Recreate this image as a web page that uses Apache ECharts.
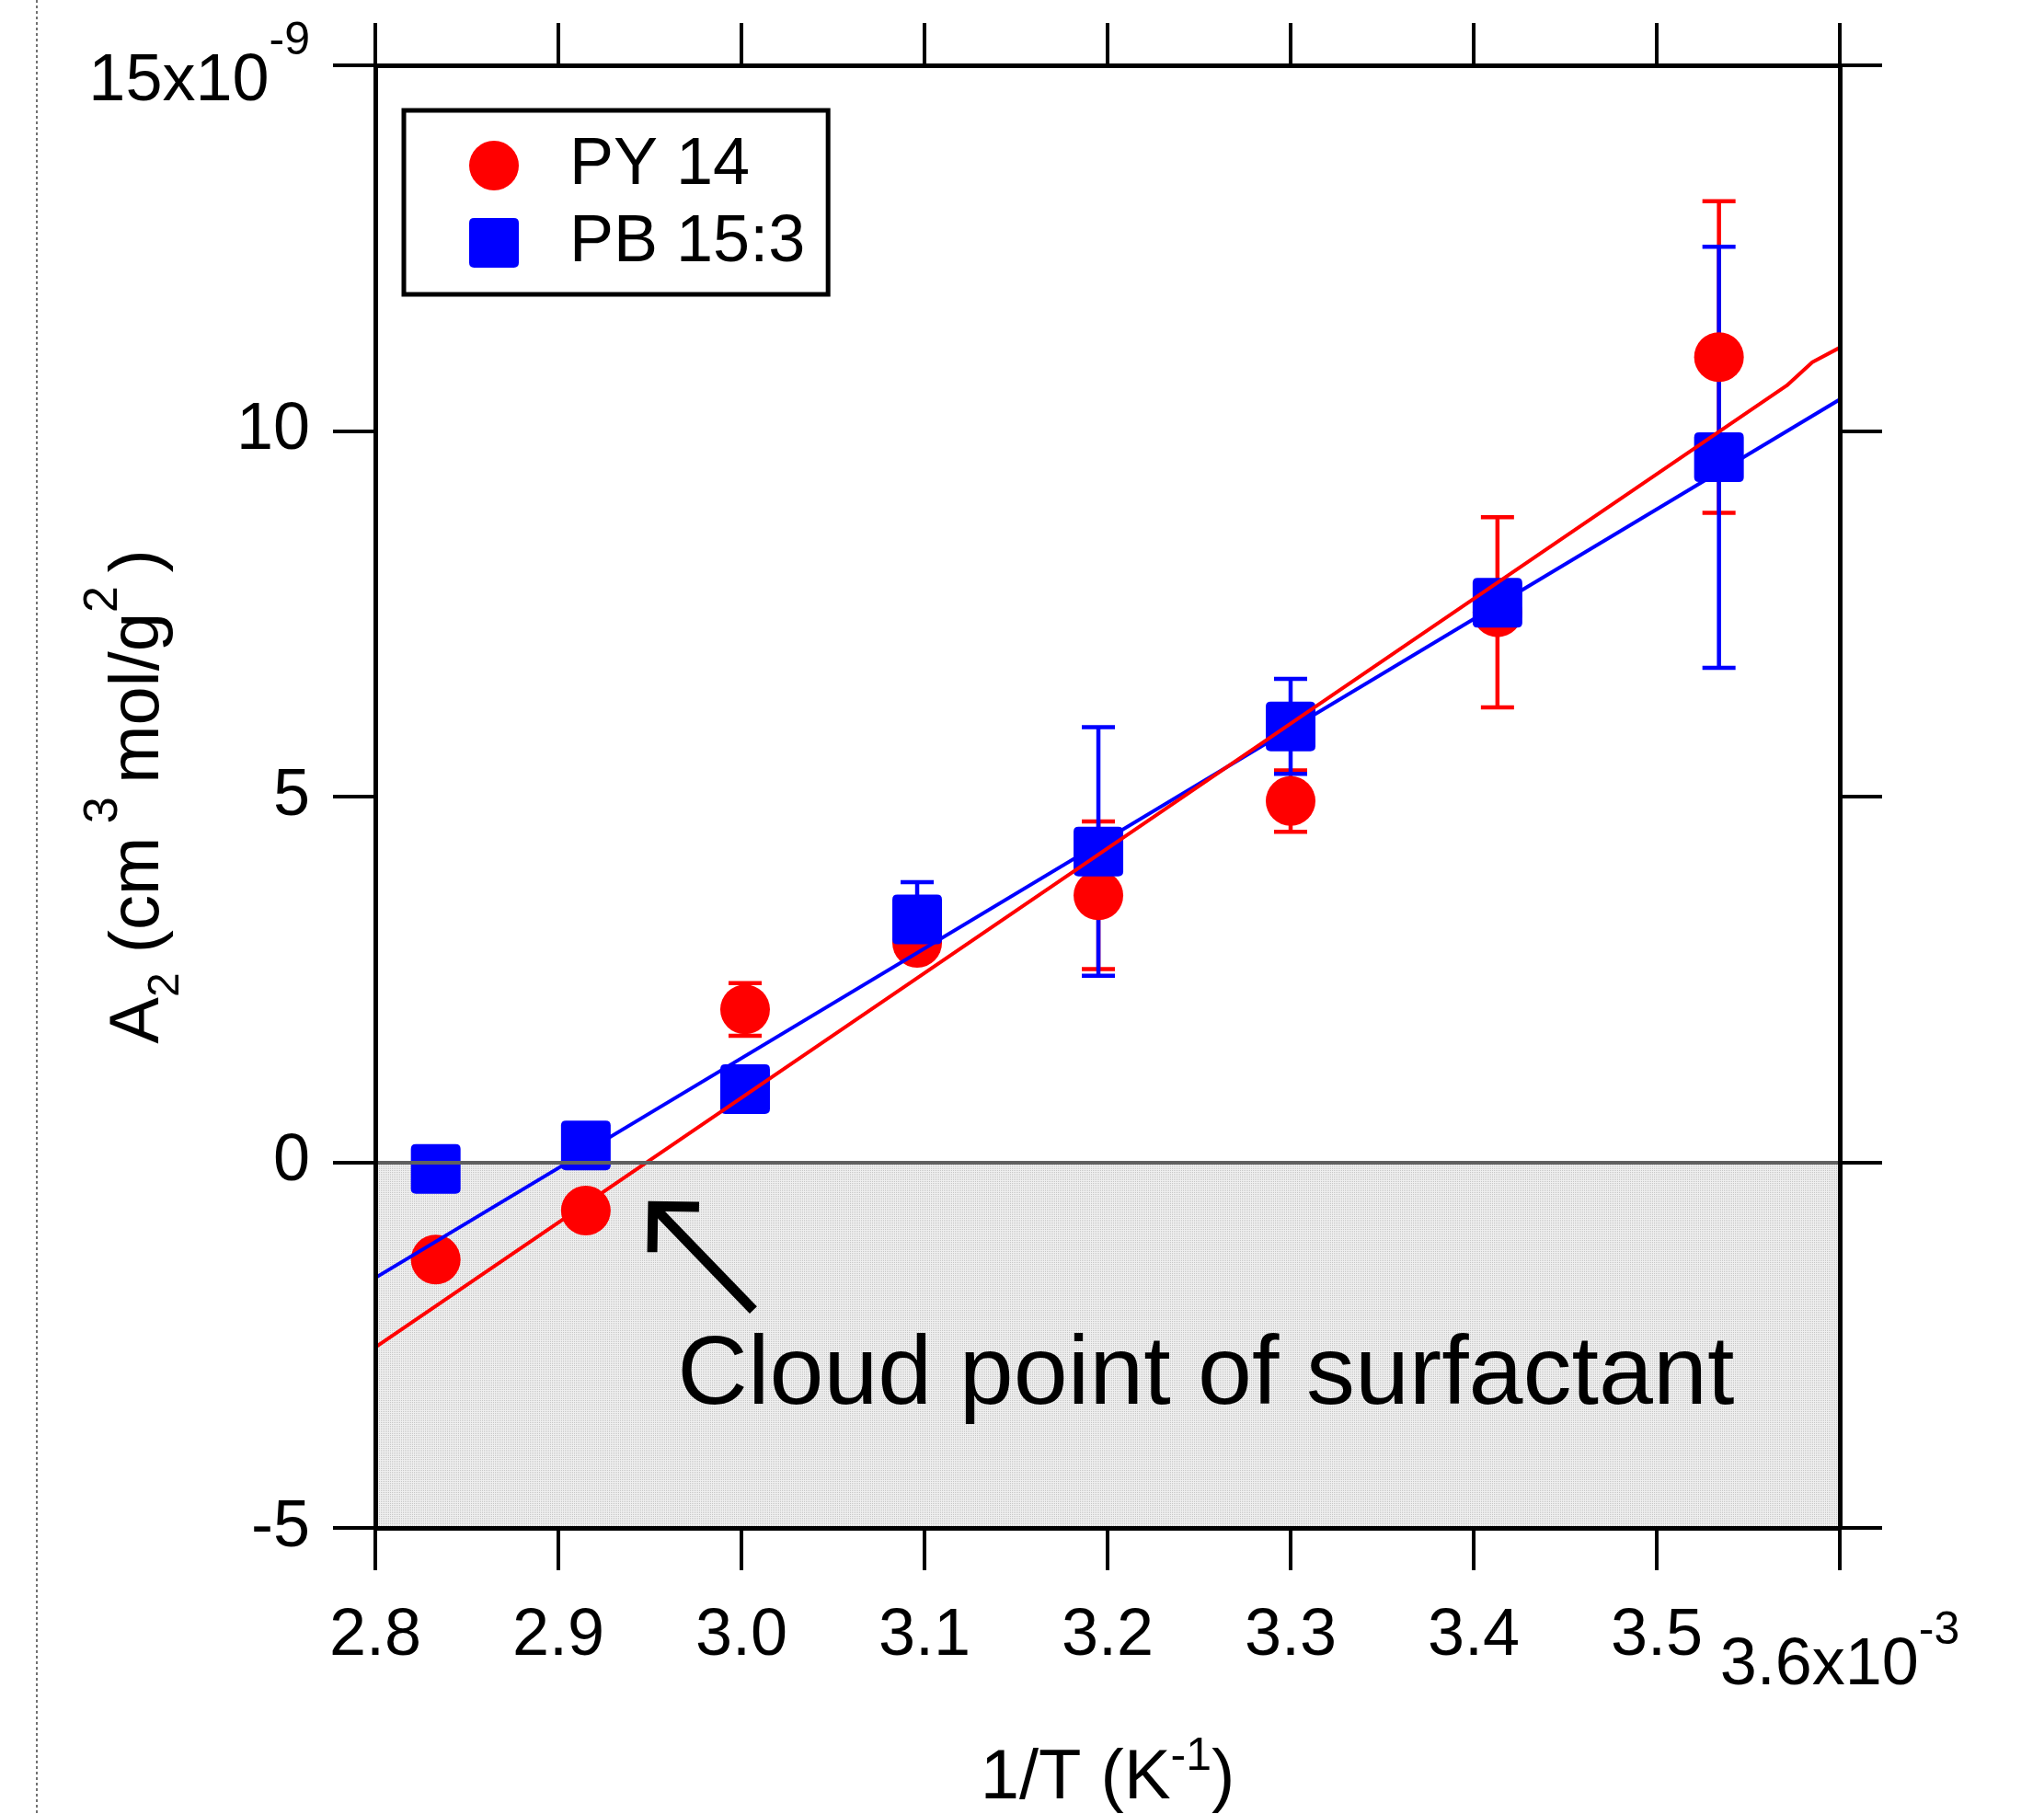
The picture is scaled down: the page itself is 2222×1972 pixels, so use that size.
<!DOCTYPE html>
<html>
<head>
<meta charset="utf-8">
<script src="https://cdn.jsdelivr.net/npm/echarts@6/dist/echarts.min.js"></script>
<style>
  html, body { margin: 0; padding: 0; background: #fff; }
  #chart { width: 2222px; height: 1972px; }
</style>
</head>
<body>
<div id="chart"></div>
<script>
// 1/T values (x10^-3 K^-1) and A2 values (x10^-9)
const invT = [2.833, 2.915, 3.002, 3.096, 3.195, 3.300, 3.413, 3.534];
const py14 = [-1.33, -0.66, 2.09, 3.00, 3.65, 4.94, 7.52, 11.01];
const py14Err = [null, null, 0.36, null, 1.01, 0.42, 1.30, 2.13];
const pb153 = [-0.09, 0.23, 1.00, 3.32, 4.25, 5.96, 7.65, 9.64];
const pb153Err = [null, null, null, 0.51, 1.70, 0.65, null, 2.88];

// fit lines
const py14FitX = [2.8, 3.571, 3.585, 3.6];
const py14FitY = [-2.53, 10.62, 10.94, 11.14];
const pb153FitX = [2.8, 3.6];
const pb153FitY = [-1.58, 10.43];

const xMin = 2.8, xMax = 3.6, xStep = 0.1;
const yMin = -5, yMax = 15, yStep = 5;

const cloudLabel = 'Cloud point of surfactant';
const cloudTextAt = [2.965, -2.94];
const arrowTip = [2.949, -0.53];
const arrowTail = [3.0065, -2.02];

const chart = echarts.init(document.getElementById('chart'));
const font = 'Liberation Sans, Arial, sans-serif';
const red = '#ff0000';
const blue = '#0000ff';
const squarePath = 'path://M1,0H9Q10,0,10,1V9Q10,10,9,10H1Q0,10,0,9V1Q0,0,1,0Z';

const shade = (() => {
  const c = document.createElement('canvas');
  c.width = 2; c.height = 2;
  const ctx = c.getContext('2d');
  ctx.fillStyle = '#efefef';
  ctx.fillRect(0, 0, 2, 2);
  ctx.fillStyle = '#c6c6c6';
  ctx.fillRect(0, 0, 1, 1);
  return c;
})();

const errData = (vals, errs) => invT.map((x, i) => [x, vals[i], errs[i]]).filter((d) => d[2] != null);
const zip = (xs, ys) => xs.map((x, i) => [x, ys[i]]);

const errorBars = (color) => (params, api) => {
  const x = api.value(0), y = api.value(1), e = api.value(2);
  const top = api.coord([x, y + e]);
  const bot = api.coord([x, y - e]);
  const half = 18;
  const style = { stroke: color, lineWidth: 4.5 };
  return {
    type: 'group',
    children: [
      { type: 'line', shape: { x1: top[0], y1: top[1], x2: bot[0], y2: bot[1] }, style },
      { type: 'line', shape: { x1: top[0] - half, y1: top[1], x2: top[0] + half, y2: top[1] }, style },
      { type: 'line', shape: { x1: bot[0] - half, y1: bot[1], x2: bot[0] + half, y2: bot[1] }, style }
    ]
  };
};

const frameAxis = (extra) => Object.assign({
  type: 'value',
  z: 10,
  nameMoveOverlap: false,
  axisLine: { show: true, onZero: false, lineStyle: { color: '#000', width: 5 } },
  axisTick: { show: true, inside: false, length: 46, lineStyle: { color: '#000', width: 4 } },
  splitLine: { show: false }
}, extra);

const option = {
  animation: false,
  backgroundColor: '#fff',
  grid: { left: 408, top: 71, right: 222, bottom: 311, containLabel: false, outerBoundsMode: 'none' },
  legend: {
    data: [{ name: 'PY 14', icon: 'circle' }, { name: 'PB 15:3', icon: squarePath }],
    orient: 'vertical',
    left: 439,
    top: 120,
    padding: [24, 25, 20, 71],
    itemWidth: 54,
    itemHeight: 54,
    itemGap: 12,
    borderColor: '#000',
    borderWidth: 5,
    backgroundColor: '#fff',
    selectedMode: false,
    textStyle: { fontSize: 72, fontFamily: font, color: '#000', padding: [0, 0, 0, 50] }
  },
  xAxis: [
    frameAxis({
      position: 'bottom',
      min: xMin, max: xMax, interval: xStep,
      name: '{m|1/T (K}{s|-1}{m|)}',
      nameLocation: 'middle',
      nameGap: 228,
      nameTextStyle: {
        fontSize: 76, fontFamily: font, color: '#000',
        rich: {
          m: { fontSize: 76, lineHeight: 90, fontFamily: font, color: '#000' },
          s: { fontSize: 50, lineHeight: 90, fontFamily: font, color: '#000', padding: [0, 0, 48, 0] }
        }
      },
      axisLabel: {
        fontSize: 72, fontFamily: font, color: '#000', margin: 78, lineHeight: 80,
        showMinLabel: true, showMaxLabel: true,
        formatter: (v) => Math.abs(v - xMax) < 1e-6 ? '{m|3.6x10}{s|-3}' : v.toFixed(1),
        rich: {
          m: { fontSize: 72, lineHeight: 80, fontFamily: font, color: '#000', padding: [64, 0, 0, 0] },
          s: { fontSize: 50, lineHeight: 80, fontFamily: font, color: '#000', padding: [0, 0, 12, 0] }
        }
      }
    }),
    frameAxis({ position: 'top', min: xMin, max: xMax, interval: xStep, axisLabel: { show: false } })
  ],
  yAxis: [
    frameAxis({
      position: 'left',
      min: yMin, max: yMax, interval: yStep,
      name: '{m|A}{sub|2}{m| (cm}{sup| 3 }{m|mol/g}{sup|2 }{m|)}',
      nameLocation: 'middle',
      nameRotate: 90,
      nameGap: 202,
      nameTextStyle: {
        fontSize: 76, fontFamily: font, color: '#000',
        rich: {
          m: { fontSize: 76, lineHeight: 110, fontFamily: font, color: '#000' },
          sub: { fontSize: 48, lineHeight: 110, fontFamily: font, color: '#000', padding: [60, 0, 0, 0] },
          sup: { fontSize: 52, lineHeight: 110, fontFamily: font, color: '#000', padding: [0, 0, 76, 0] }
        }
      },
      axisLabel: {
        fontSize: 72, fontFamily: font, color: '#000', margin: 71, lineHeight: 80,
        showMinLabel: true, showMaxLabel: true,
        formatter: (v) => v === yMax ? '{m|15x10}{s|-9}' : String(v),
        rich: {
          m: { fontSize: 72, lineHeight: 80, fontFamily: font, color: '#000', padding: [36, 0, 0, 0] },
          s: { fontSize: 50, lineHeight: 80, fontFamily: font, color: '#000', padding: [0, 0, 52, 0] }
        }
      }
    }),
    frameAxis({ position: 'right', min: yMin, max: yMax, interval: yStep, axisLabel: { show: false } })
  ],
  series: [
    {
      type: 'line', name: 'shade', data: [], silent: true, z: 1,
      markArea: {
        silent: true,
        itemStyle: { color: { image: shade, repeat: 'repeat' } },
        data: [[{ yAxis: yMin }, { yAxis: 0 }]]
      }
    },
    { type: 'custom', name: 'PY 14 err', renderItem: errorBars(red), data: errData(py14, py14Err), z: 2, silent: true },
    {
      type: 'scatter', name: 'PY 14', data: zip(invT, py14), symbol: 'circle', symbolSize: 54,
      itemStyle: { color: red, opacity: 1 }, z: 2
    },
    { type: 'custom', name: 'PB 15:3 err', renderItem: errorBars(blue), data: errData(pb153, pb153Err), z: 2, silent: true },
    {
      type: 'scatter', name: 'PB 15:3', data: zip(invT, pb153), symbol: squarePath, symbolSize: 54,
      itemStyle: { color: blue, opacity: 1 }, z: 2
    },
    {
      type: 'line', name: 'zero', data: [], silent: true, z: 3,
      markLine: {
        silent: true, symbol: ['none', 'none'], label: { show: false },
        lineStyle: { color: '#606060', width: 4, type: 'solid' },
        data: [{ yAxis: 0 }]
      }
    },
    {
      type: 'line', name: 'PB 15:3 fit', data: zip(pb153FitX, pb153FitY), showSymbol: false,
      lineStyle: { color: blue, width: 4 }, z: 4, silent: true
    },
    {
      type: 'line', name: 'PY 14 fit', data: zip(py14FitX, py14FitY), showSymbol: false,
      lineStyle: { color: red, width: 4 }, z: 4, silent: true
    }
  ]
};

chart.setOption(option);

// annotation: arrow and label placed from data coordinates
const px = (p) => chart.convertToPixel({ xAxisIndex: 0, yAxisIndex: 0 }, p);
const tip = px(arrowTip);
const tail = px(arrowTail);
const dx = tail[0] - tip[0], dy = tail[1] - tip[1];
const len = Math.hypot(dx, dy);
const ux = dx / len, uy = dy / len;
const corner = [tip[0] + ux * 7.8, tip[1] + uy * 7.8];
const arm = 50;
const rot = (a) => [
  corner[0] + arm * (ux * Math.cos(a) - uy * Math.sin(a)),
  corner[1] + arm * (ux * Math.sin(a) + uy * Math.cos(a))
];
const textPos = px(cloudTextAt);

chart.setOption({
  graphic: [
    { type: 'line', z: 100, shape: { x1: 40, y1: 0, x2: 40, y2: 1972 }, style: { stroke: '#444', lineWidth: 1.5, lineDash: [3, 3] } },
    { type: 'line', z: 100, shape: { x1: corner[0], y1: corner[1], x2: tail[0], y2: tail[1] }, style: { stroke: '#000', lineWidth: 11 } },
    { type: 'polyline', z: 100, shape: { points: [rot(Math.PI / 4), corner, rot(-Math.PI / 4)] }, style: { stroke: '#000', lineWidth: 11, fill: null, lineJoin: 'miter' } },
    { type: 'text', z: 100, x: textPos[0], y: textPos[1], style: { text: cloudLabel, fontSize: 106, fontFamily: font, fill: '#000', align: 'left', verticalAlign: 'middle' } }
  ]
});
</script>
</body>
</html>
